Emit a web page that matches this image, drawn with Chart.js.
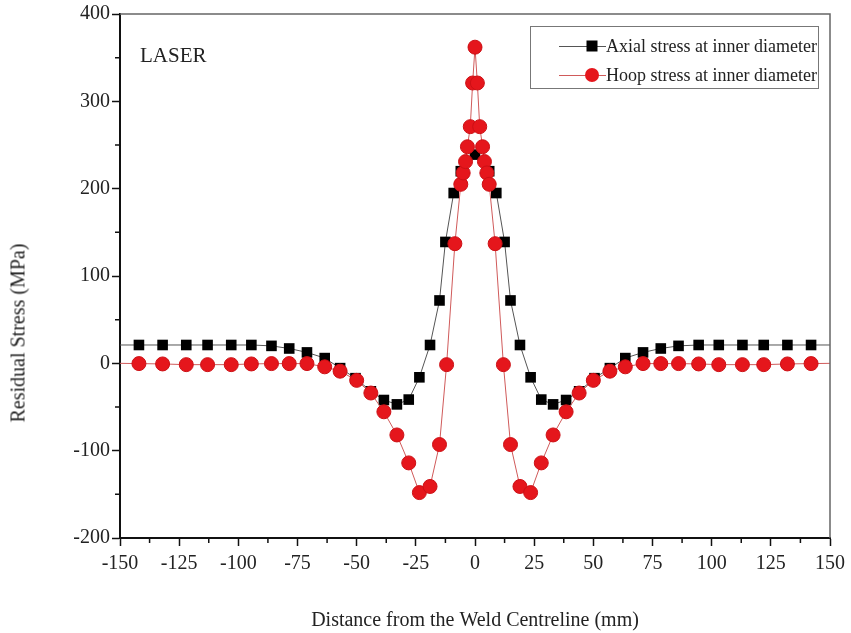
<!DOCTYPE html>
<html>
<head>
<meta charset="utf-8">
<title>Residual stress - LASER</title>
<script src="https://cdn.jsdelivr.net/npm/chart.js@4.4.1/dist/chart.umd.min.js"></script>
<style>
  body { margin: 0; background: #fff; }
  #wrap { position: relative; width: 851px; height: 633px; }
  #laser { position: absolute; left: 140px; top: 43px; font: 21px "Liberation Serif", serif; color: #222; }
  #ytitle { position: absolute; left: 18px; top: 333px; transform: translate(-50%, -50%) rotate(-90deg);
            white-space: nowrap; font: 20px "Liberation Serif", serif; color: #222; }
  #legend { position: absolute; left: 530px; top: 26px; width: 289px; height: 63px;
            border: 1.5px solid #777; box-sizing: border-box; font: 18px "Liberation Serif", serif; color: #222; }
  .row { position: absolute; left: 28px; height: 24px; display: flex; align-items: center; white-space: nowrap; }
  .sample { position: relative; width: 47px; height: 24px; }
  .ln { position: absolute; left: 0; right: 0; top: 12px; height: 1px; }
  .mk { position: absolute; top: 12px; left: 33px; transform: translate(-50%, -50%); }
</style>
</head>
<body>
<div id="wrap">
  <canvas id="chart" width="851" height="633"></canvas>
  <div id="laser">LASER</div>
  <div id="ytitle">Residual Stress (MPa)</div>
  <div id="legend"></div>
</div>
<script>
// distance from weld centreline (mm) and stress (MPa)
const axialX = [-150, -142, -132, -122, -113, -103, -94.5, -86, -78.5, -71, -63.5, -57, -50.5, -44, -38.5, -33, -28, -23.5, -19, -15, -12.5, -9, -6, 0,
                6, 9, 12.5, 15, 19, 23.5, 28, 33, 38.5, 44, 50.5, 57, 63.5, 71, 78.5, 86, 94.5, 103, 113, 122, 132, 142, 150];
const axialY = [21, 21, 21, 21, 21, 21, 21, 20, 17, 12.5, 6, -5.5, -17, -32, -42, -47, -41.5, -16, 21, 72, 139, 195, 220, 239,
                220, 195, 139, 72, 21, -16, -41.5, -47, -42, -32, -17, -5.5, 6, 12.5, 17, 20, 21, 21, 21, 21, 21, 21, 21];

const hoopX = [-150, -142, -132, -122, -113, -103, -94.5, -86, -78.5, -71, -63.5, -57, -50, -44, -38.5, -33, -28, -23.5, -19, -15, -12, -8.5, -6, -5, -4, -3.2, -2, -1, 0,
               1, 2, 3.2, 4, 5, 6, 8.5, 12, 15, 19, 23.5, 28, 33, 38.5, 44, 50, 57, 63.5, 71, 78.5, 86, 94.5, 103, 113, 122, 132, 142, 150];
const hoopY = [0, -0.3, -0.7, -1.5, -1.5, -1.5, -0.7, -0.3, -0.3, -0.3, -4, -9, -19.5, -34, -55.5, -82, -114, -148, -141, -93, -1.5, 137, 205, 218, 231, 248, 271, 321, 362,
               321, 271, 248, 231, 218, 205, 137, -1.5, -93, -141, -148, -114, -82, -55.5, -34, -19.5, -9, -4, -0.3, -0.3, -0.3, -0.7, -1.5, -1.5, -1.5, -0.7, -0.3, 0];

const seriesNames = ['Axial stress at inner diameter', 'Hoop stress at inner diameter'];
const xTicks = { min: -150, max: 150, step: 25, minor: 12.5 };
const yTicks = { min: -200, max: 400, step: 100, minor: 50 };

const FONT = '"Liberation Serif", "Times New Roman", serif';

function toPoints(xs, ys) {
  return xs.map((x, i) => ({ x: x, y: ys[i] }));
}

// no marker on the two end points, the line just runs to the frame
function markerSize(size) {
  return ctx => {
    const n = ctx.dataset.data.length;
    return (ctx.dataIndex === 0 || ctx.dataIndex === n - 1) ? 0 : size;
  };
}

// minor ticks + thin frame on top / right
const framePlugin = {
  id: 'framePlugin',
  afterDraw(chart) {
    const { ctx, chartArea: a, scales: { x, y } } = chart;
    ctx.save();
    ctx.strokeStyle = '#666';
    ctx.lineWidth = 1.5;
    ctx.beginPath();
    ctx.moveTo(a.left, a.top);
    ctx.lineTo(a.right, a.top);
    ctx.lineTo(a.right, a.bottom);
    ctx.stroke();

    ctx.strokeStyle = '#111';
    ctx.lineWidth = 1.5;
    ctx.beginPath();
    for (let v = xTicks.min + xTicks.minor; v < xTicks.max; v += xTicks.step) {
      const px = x.getPixelForValue(v);
      ctx.moveTo(px, a.bottom);
      ctx.lineTo(px, a.bottom + 5);
    }
    for (let v = yTicks.min + yTicks.minor; v < yTicks.max; v += yTicks.step) {
      const py = y.getPixelForValue(v);
      ctx.moveTo(a.left, py);
      ctx.lineTo(a.left - 5, py);
    }
    ctx.stroke();
    ctx.restore();
  }
};

const ctx = document.getElementById('chart').getContext('2d');
const chart = new Chart(ctx, {
  type: 'line',
  data: {
    datasets: [{
      label: seriesNames[0],
      data: toPoints(axialX, axialY),
      borderColor: '#555',
      borderWidth: 1,
      backgroundColor: '#000',
      pointStyle: 'rect',
      pointRadius: markerSize(7.5),
      pointBorderWidth: 0,
      pointBackgroundColor: '#000',
      tension: 0,
      order: 2
    }, {
      label: seriesNames[1],
      data: toPoints(hoopX, hoopY),
      borderColor: '#d05a5a',
      borderWidth: 1,
      backgroundColor: '#e5161c',
      pointStyle: 'circle',
      pointRadius: markerSize(7),
      pointBorderWidth: 1,
      pointBorderColor: '#cc1015',
      pointBackgroundColor: '#e5161c',
      tension: 0,
      order: 1
    }]
  },
  options: {
    responsive: false,
    animation: false,
    layout: { padding: { top: 14, right: 21, left: 0, bottom: 0 } },
    plugins: {
      legend: { display: false },
      tooltip: { enabled: false }
    },
    scales: {
      x: {
        type: 'linear',
        min: xTicks.min,
        max: xTicks.max,
        afterFit: s => { s.height = 95; },
        ticks: { stepSize: xTicks.step, padding: 6, color: '#222', font: { family: FONT, size: 20 } },
        grid: { drawOnChartArea: false, tickLength: 8, tickColor: '#111', tickWidth: 1.5 },
        border: { color: '#111', width: 2 },
        title: {
          display: true,
          text: 'Distance from the Weld Centreline (mm)',
          color: '#222',
          font: { family: FONT, size: 20 },
          padding: { top: 0, bottom: 0 }
        }
      },
      y: {
        min: yTicks.min,
        max: yTicks.max,
        afterFit: s => { s.width = 120; },
        ticks: { stepSize: yTicks.step, padding: 2, color: '#222', font: { family: FONT, size: 20 } },
        grid: { drawOnChartArea: false, tickLength: 8, tickColor: '#111', tickWidth: 1.5 },
        border: { color: '#111', width: 2 }
      }
    }
  },
  plugins: [framePlugin]
});

// legend drawn as html so the line + marker sample looks like the figure
function buildLegend() {
  const box = document.getElementById('legend');
  const rows = [
    { name: seriesNames[0], line: '#555', marker: 'width:11px;height:11px;background:#000;' },
    { name: seriesNames[1], line: '#d05a5a', marker: 'width:14px;height:14px;border-radius:50%;background:#e5161c;' }
  ];
  rows.forEach((r, i) => {
    const row = document.createElement('div');
    row.className = 'row';
    row.style.top = (7 + i * 29) + 'px';
    row.innerHTML = `
      <span class="sample">
        <span class="ln" style="background:${r.line}"></span>
        <span class="mk" style="${r.marker}"></span>
      </span>
      <span>${r.name}</span>`;
    box.appendChild(row);
  });
}
buildLegend();
</script>
</body>
</html>
